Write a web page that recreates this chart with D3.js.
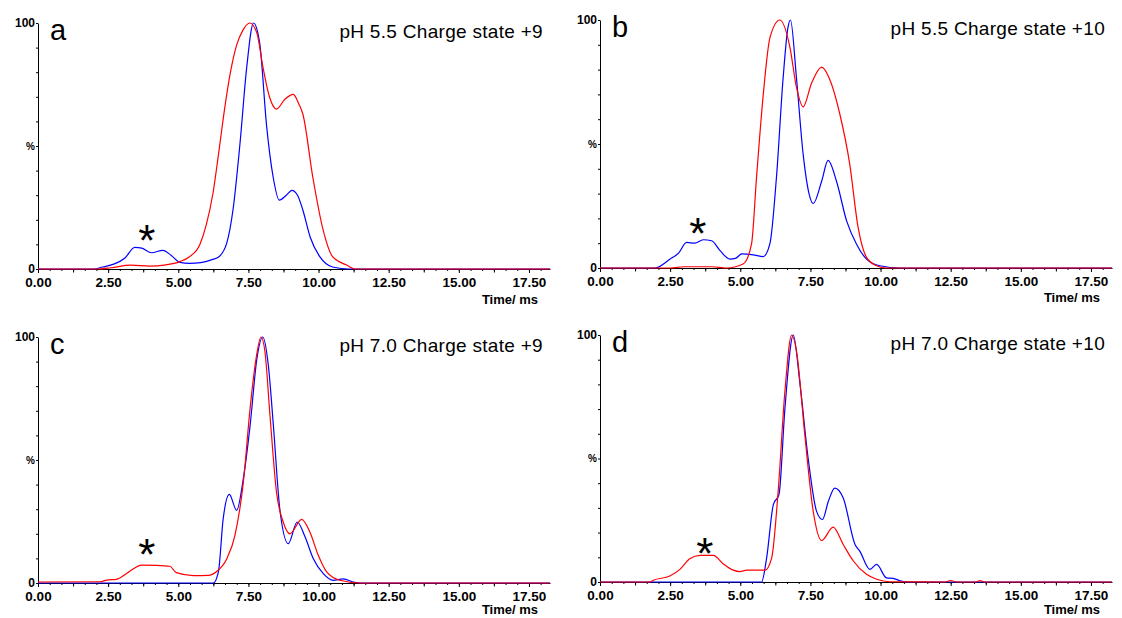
<!DOCTYPE html>
<html>
<head>
<meta charset="utf-8">
<script src="https://cdn.jsdelivr.net/npm/d3@7"></script>
<style>
  body { margin: 0; background: #fff; }
  svg { font-family: "Liberation Sans", Arial, sans-serif; }
  .axis path, .axis line { stroke: #000; stroke-width: 1; }
  .axis text { fill: #000; font-weight: bold; }
</style>
</head>
<body>
<svg id="chart" width="1122" height="618"></svg>
<script>
// data: [time ms, intensity %]
const aBlue = [[0,0],[2.0,0],[2.3,0.8],[2.7,2.0],[3.1,4.5],[3.45,8.8],[3.7,8.5],[4.05,6.6],[4.45,7.6],[4.75,5.5],[5.06,2.7],[5.4,2.3],[5.8,2.6],[6.2,3.8],[6.45,5],[6.73,10.6],[6.95,24],[7.2,51],[7.44,82],[7.68,100],[7.9,92],[8.15,58],[8.38,37.5],[8.6,28],[8.85,30],[9.05,32],[9.25,30],[9.44,24],[9.7,13],[10.05,4.9],[10.5,0.8],[11.1,0],[18.25,0]]
const aRed = [[0,0],[2.1,0],[2.6,0.5],[3.3,1.6],[4.0,1.2],[4.5,1.6],[5.06,3],[5.4,5],[5.77,10],[6.0,18],[6.24,31],[6.45,48],[6.65,65],[6.86,80],[7.08,91],[7.3,97],[7.55,100],[7.8,96],[8.02,82],[8.25,70],[8.5,65],[8.8,69],[9.1,71],[9.3,67],[9.44,63],[9.8,37],[10.16,16],[10.5,5],[11.0,1.6],[11.3,0],[18.25,0]]

const bBlue = [[0,0],[1.96,0],[2.5,3.6],[2.8,6],[3.09,10.3],[3.38,10],[3.68,11.4],[3.98,11],[4.28,7],[4.63,3.6],[4.85,4],[5.05,5.7],[5.46,5.3],[5.82,4.6],[6.06,10],[6.29,36.6],[6.53,77],[6.7,97],[6.79,100],[7.0,77],[7.24,46],[7.45,30],[7.6,26],[7.9,35],[8.13,43.4],[8.43,35],[8.79,19],[9.14,9.7],[9.5,3.6],[9.98,0.9],[10.7,0],[18.25,0]]
const bRed = [[0,0],[2.5,0],[3.0,0.5],[4.0,0.5],[4.5,0],[5.1,1.6],[5.4,9.6],[5.58,36.6],[5.82,70],[6.06,93],[6.41,100],[6.77,89],[7.0,73],[7.24,65],[7.54,74.5],[7.9,81],[8.19,76],[8.55,62],[8.9,42],[9.2,16.4],[9.5,4.3],[9.86,0.9],[10.2,0],[18.25,0]]

const cBlue = [[0,0],[6.25,0],[6.43,4.5],[6.6,26],[6.82,36],[7.08,29.5],[7.32,42.5],[7.56,64],[7.8,91],[8.01,100],[8.21,88.5],[8.39,64],[8.62,30],[8.92,16],[9.24,24.8],[9.51,19],[9.81,10],[10.17,3.8],[10.52,1.1],[10.88,1.7],[11.24,0.4],[11.5,0],[18.25,0]]
const cRed = [[0,0.4],[2.21,0.5],[2.45,1.2],[2.8,1.5],[3.16,3.9],[3.7,7.3],[4.23,7.2],[4.7,6.8],[4.93,4.2],[5.54,3],[6.07,3.1],[6.37,4.7],[6.73,9.9],[7.02,19.4],[7.32,41],[7.56,71],[7.77,91],[7.95,100],[8.09,94],[8.27,68],[8.5,37],[8.74,24.8],[8.98,20],[9.4,25.9],[9.69,20.7],[9.99,11.3],[10.29,4.5],[10.76,1.1],[11.47,0],[18.25,0]]

const dBlue = [[0,0],[5.76,0],[5.94,9.8],[6.18,31.4],[6.38,35.4],[6.59,70],[6.89,100],[7.13,80],[7.42,50],[7.72,28.6],[7.93,25.3],[8.14,32.7],[8.37,38],[8.67,34],[9.09,15.2],[9.26,12.5],[9.62,5.1],[9.86,7.1],[10.21,1.7],[10.45,1.5],[10.7,0.5],[11,0],[18.25,0]]
const dRed = [[0,0],[1.78,0],[1.9,0.7],[2.49,2.4],[2.85,5.1],[3.2,9.4],[3.56,10.8],[4.04,10.8],[4.39,7.4],[4.75,4.8],[4.99,4.2],[5.23,4.8],[5.88,4.8],[6.12,9.8],[6.35,36.7],[6.59,77],[6.83,100],[7.01,93],[7.3,59.6],[7.6,28.6],[7.9,16.8],[8.31,22.2],[8.67,15.2],[9.03,8.5],[9.5,3.1],[9.86,1.1],[10.33,0.1],[12.3,0],[12.5,0.6],[12.7,0],[13.4,0],[13.55,0.6],[13.7,0],[18.25,0]]

const xTickLabels = [0, 2.5, 5, 7.5, 10, 12.5, 15, 17.5]
const yTicks = d3.range(0, 101, 10)
const labels = ['a', 'b', 'c', 'd']
const titles = ['pH 5.5 Charge state +9', 'pH 5.5 Charge state +10', 'pH 7.0 Charge state +9', 'pH 7.0 Charge state +10']
const stars = [[3.88, 15.4], [3.49, 17.7], [3.88, 15.4], [3.74, 15.4]]

// panel layout
const panels = [
    { left: 38, top: 23, bottom: 269, unitY: 35, blue: aBlue, red: aRed },
    { left: 600, top: 20, bottom: 268, unitY: 34, blue: bBlue, red: bRed },
    { left: 38, top: 337, bottom: 583, unitY: 31, blue: cBlue, red: cRed },
    { left: 600, top: 335, bottom: 582, unitY: 32, blue: dBlue, red: dRed }
]
const plotW = 512
const xMaxT = 18.25

const svg = d3.select('#chart')

panels.forEach((p, i) => {
    const g = svg.append('g').attr('transform', `translate(${p.left},0)`)
    const x = d3.scaleLinear([0, xMaxT], [0, plotW])
    const y = d3.scaleLinear([0, 100], [p.bottom, p.top])

    // minor x ticks
    const minor = d3.range(0, xMaxT, 2.5 / 6)
    g.append('g').attr('class', 'axis').attr('transform', `translate(0,${p.bottom})`)
        .call(d3.axisBottom(x).tickValues(minor).tickSize(2).tickSizeOuter(0).tickFormat(''))
        .call(s => s.select('.domain').remove())
    g.append('g').attr('class', 'axis').attr('transform', `translate(0,${p.bottom})`)
        .call(d3.axisBottom(x).tickValues(d3.range(1.25, xMaxT, 2.5)).tickSize(3.5).tickSizeOuter(0).tickFormat(''))
        .call(s => s.select('.domain').remove())

    // major x axis
    g.append('g').attr('class', 'axis').attr('transform', `translate(0,${p.bottom})`)
        .call(d3.axisBottom(x).tickValues(xTickLabels).tickSize(4).tickSizeOuter(0)
            .tickPadding(4).tickFormat(d3.format('.2f')))
        .call(s => s.selectAll('text').style('font-size', '13.5px'))

    // y axis
    g.append('g').attr('class', 'axis')
        .call(d3.axisLeft(y).tickValues(yTicks).tickSize(2).tickSizeOuter(0).tickPadding(1)
            .tickFormat(d => d === 100 ? '100' : d === 0 ? '0' : d === 50 ? '%' : ''))
        .call(s => s.selectAll('text').style('font-size', d => d === 50 ? '10px' : '12px'))

    g.append('text').attr('x', 500).attr('y', p.bottom + p.unitY)
        .attr('text-anchor', 'end').style('font-size', '13px').style('font-weight', 'bold')
        .text('Time/ ms')

    const line = d3.line().x(d => x(d[0])).y(d => y(d[1])).curve(d3.curveMonotoneX)
    g.append('path').datum(p.blue).attr('d', line)
        .attr('fill', 'none').attr('stroke', '#0000ff').attr('stroke-width', 1.2)
    g.append('path').datum(p.red).attr('d', line)
        .attr('fill', 'none').attr('stroke', '#ff0000').attr('stroke-width', 1.2)

    g.append('text').attr('x', 12).attr('y', p.top + 17)
        .style('font-size', '29px').text(labels[i])

    g.append('text').attr('x', 505).attr('y', p.top + 15)
        .attr('text-anchor', 'end').style('font-size', '19px').style('letter-spacing', '0.3px')
        .text(titles[i])

    g.append('text').attr('x', x(stars[i][0])).attr('y', y(stars[i][1]) + 25)
        .attr('text-anchor', 'middle').style('font-size', '44px').text('*')
})
</script>
</body>
</html>
